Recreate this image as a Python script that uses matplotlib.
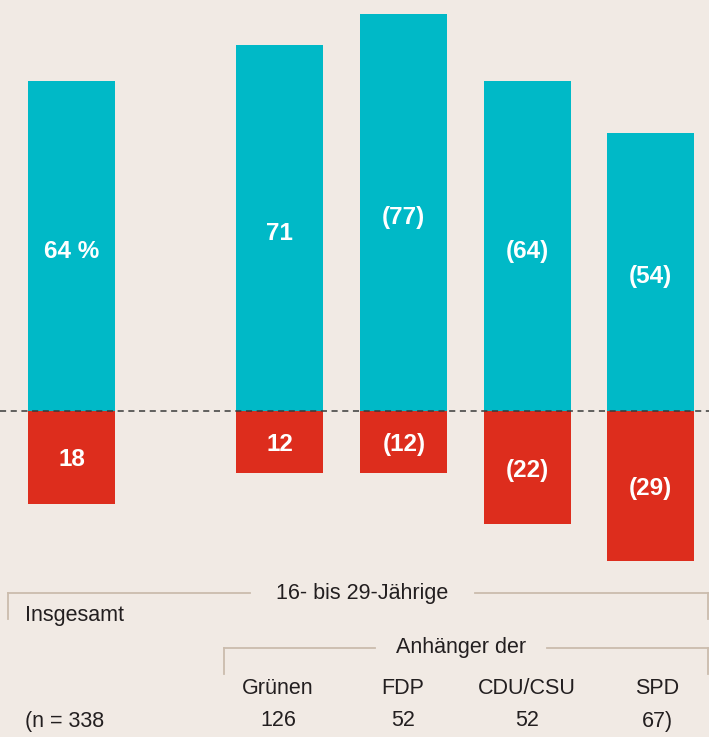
import matplotlib

matplotlib.use("Agg")
import matplotlib.pyplot as plt

# data
groups = ["Insgesamt", "Grünen", "FDP", "CDU/CSU", "SPD"]
positive = [64, 71, 77, 64, 54]
negative = [18, 12, 12, 22, 29]
pos_labels = ["64 %", "71", "(77)", "(64)", "(54)"]
neg_labels = ["18", "12", "(12)", "(22)", "(29)"]
n_counts = ["(n = 338", "126", "52", "52", "67)"]

BG = "#f1eae4"
TEAL = "#00b9c7"
RED = "#dd2d1d"
LINE = "#cbbcad"
INK = "#231f20"

plt.rcParams["font.family"] = ["Liberation Sans", "DejaVu Sans"]

W, H = 709, 737
fig = plt.figure(figsize=(W / 100, H / 100), dpi=100, facecolor=BG)

# bar axes: upper part of the figure, x in "slot" units
xpos = [0, 1.68, 2.68, 3.68, 4.67]
unit = 124.0
x0_px = 71.5
ax = fig.add_axes([0, 1 - 570 / H, 1, 570 / H])
ax.set_facecolor(BG)
ax.set_xlim(-x0_px / unit, (W - x0_px) / unit)
ppu = 5.156  # pixels per percentage point
ax.set_ylim(-(570 - 411) / ppu, 411 / ppu)
ax.axis("off")

bw = 87 / unit
ax.bar(xpos, positive, width=bw, color=TEAL, zorder=2)
ax.bar(xpos, [-v for v in negative], width=bw, color=RED, zorder=2)
ax.axhline(0, color="#3a3a3a", lw=1.1, ls=(0, (4, 3)), zorder=3)

for x, v, t in zip(xpos, positive, pos_labels):
    ax.text(x, v / 2 - 1, t, ha="center", va="center", color="white",
            fontsize=17.5, fontweight="bold", zorder=4)
for x, v, t in zip(xpos, negative, neg_labels):
    ax.text(x, -v / 2 - 0.5, t, ha="center", va="center", color="white",
            fontsize=17.5, fontweight="bold", zorder=4)


# bottom annotations in pixel coordinates (y measured from the top)
def px(x, y):
    return x / W, 1 - y / H


def hline(xa, xb, y):
    fig.add_artist(plt.Line2D([xa / W, xb / W], [1 - y / H, 1 - y / H],
                              color=LINE, lw=1.3, transform=fig.transFigure))


def vline(x, ya, yb):
    fig.add_artist(plt.Line2D([x / W, x / W], [1 - ya / H, 1 - yb / H],
                              color=LINE, lw=1.3, transform=fig.transFigure))


FS = 15.5

# "16- bis 29-Jährige" bracket
hline(8, 250, 593)
hline(475, 708, 593)
vline(8, 593, 619)
vline(708, 593, 619)
fig.text(*px(362, 593), "16- bis 29-Jährige", ha="center", va="center",
         fontsize=FS, color=INK)
fig.text(*px(25, 616), "Insgesamt", ha="left", va="center",
         fontsize=FS, color=INK)

# "Anhänger der" bracket
hline(224, 375, 648)
hline(547, 708, 648)
vline(224, 648, 674)
vline(708, 648, 674)
fig.text(*px(461, 648), "Anhänger der", ha="center", va="center",
         fontsize=FS, color=INK)

label_x = [None, 278, 403, 527, 657]
for g, lx in zip(groups[1:], label_x[1:]):
    fig.text(*px(lx, 688), g, ha="center", va="center", fontsize=FS, color=INK)

fig.text(*px(25, 721), n_counts[0], ha="left", va="center", fontsize=FS, color=INK)
for n, lx in zip(n_counts[1:], label_x[1:]):
    fig.text(*px(lx, 721), n, ha="center", va="center", fontsize=FS, color=INK)

fig.savefig("out.png", dpi=100, facecolor=BG)
